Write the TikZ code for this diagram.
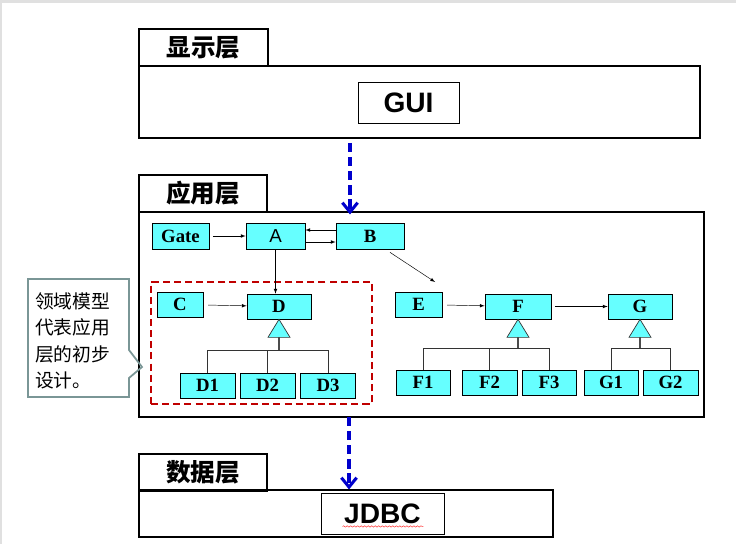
\documentclass[tikz,border=0pt]{standalone}
\usepackage{fontspec}
\setmainfont{Liberation Serif}
\newfontfamily\cjk{Noto Sans CJK SC}
\newfontfamily\arial{Liberation Sans}
\usetikzlibrary{arrows.meta, decorations.pathmorphing}
\definecolor{boxcyan}{RGB}{102,255,255}
\definecolor{depblue}{RGB}{0,0,204}
\definecolor{groupred}{RGB}{192,0,0}
\definecolor{notegray}{RGB}{122,150,150}

\begin{document}
\begin{tikzpicture}[
        x=0.03cm, y=-0.03cm,
        every node/.style={draw, inner sep=0pt, align=center},
        wh/.style 2 args={minimum width=#1*0.03cm, minimum height=#2*0.03cm},
        tab/.style={line width=0.9pt, font=\cjk\bfseries\fontsize{21}{25}\selectfont},
        layer/.style={line width=0.9pt},
        lib/.style={line width=0.8pt, font=\arial\bfseries\fontsize{24}{28}\selectfont},
        cls/.style={fill=boxcyan, line width=0.6pt, font=\bfseries\fontsize{16}{18}\selectfont},
        link/.style={-latex, thin},
        dep/.style={-{Straight Barb[length=8pt,width=13pt]}, depblue, line width=2.6pt, dash pattern=on 8pt off 4pt},
        tree/.style={draw=black!80, line width=0.6pt},
        stem/.style={draw=black!70, line width=2pt},
        tri/.style={fill=boxcyan, draw=black!80, line width=0.6pt},
        group/.style={draw=groupred, line width=1.4pt, dash pattern=on 6pt off 3.5pt},
        note/.style={draw=notegray, line width=1.5pt}
    ]
    \useasboundingbox (0,0) rectangle (736,544);
    \fill[black!12] (0,0) rectangle (736,3);
    \fill[black!12] (0,0) rectangle (2,544);

    % Presentation layer
    \node[layer, wh={561}{72}] (lay1) at (419.5,102) {};
    \node[tab, wh={129}{37}] (tab1) at (203.5,47.5) {显示层};
    \node[lib, wh={101}{41}] (gui) at (408.5,102.5) {GUI};

    % Application layer
    \node[layer, wh={565}{205}] (lay2) at (421.5,314.5) {};
    \node[tab, wh={128}{37}] (tab2) at (203,193.5) {应用层};

    \node[cls, wh={57}{26}] (gate) at (180.5,236) {Gate};
    \node[cls, wh={59}{26}, font=\arial\fontsize{16}{18}\selectfont] (a) at (275.5,236) {A};
    \node[cls, wh={68}{26}] (b) at (370,236) {B};
    \draw[link, shorten <=3pt] (gate) -- (a);
    \draw[link] ([yshift=-0.18cm]a.east) -- ([yshift=-0.18cm]b.west);
    \draw[link] ([yshift=0.18cm]b.west) -- ([yshift=0.18cm]a.east);

    % Domain model group (left)
    \node[group, wh={221}{122}] (grp) at (261.5,343) {};
    \node[cls, wh={46}{25}] (c) at (180,304.5) {C};
    \node[cls, wh={64}{25}] (d) at (279,306.5) {D};
    \node[cls, wh={55}{25}] (d1) at (207.5,385.5) {D1};
    \node[cls, wh={55}{25}] (d2) at (267.5,385.5) {D2};
    \node[cls, wh={55}{25}] (d3) at (328,385.5) {D3};
    \draw[link] (a.south) -- (a.south |- d.north);
    \draw[link, shorten <=4pt] (c) -- (d);
    \draw[tri] (d.south) -- ++(-11,18) coordinate (dl) -- ++(22,0) -- cycle;
    \path (d.south |- dl) ++(0,13) coordinate (dj);
    \draw[tree] (d1.north) |- (dj);
    \draw[tree] (d2.north) |- (dj);
    \draw[tree] (d3.north) |- (dj);
    \draw[stem] (d.south |- dl) -- (dj);

    % Right part
    \coordinate (etip) at (435,282);
    \node[cls, wh={47}{25}] (e) at (418.5,304.5) {E};
    \node[cls, wh={66}{25}] (f) at (518,306.5) {F};
    \node[cls, wh={64}{25}] (g) at (640,306.5) {G};
    \node[cls, wh={54}{25}] (f1) at (423,382.5) {F1};
    \node[cls, wh={55}{25}] (f2) at (489.5,382.5) {F2};
    \node[cls, wh={54}{25}] (f3) at (549,382.5) {F3};
    \node[cls, wh={54}{25}] (g1) at (611,382.5) {G1};
    \node[cls, wh={55}{25}] (g2) at (670.5,382.5) {G2};
    \draw[link] ([shift={(20,3)}]b.south) -- (etip);
    \draw[link, shorten <=4pt] (e) -- (f);
    \draw[link, shorten <=3pt] (f) -- (g);

    \draw[tri] (f.south) -- ++(-11,18) coordinate (fl) -- ++(22,0) -- cycle;
    \path (f.south |- fl) ++(0,11) coordinate (fj);
    \draw[tree] (f1.north) |- (fj);
    \draw[tree] (f2.north) |- (fj);
    \draw[tree] (f3.north) |- (fj);
    \draw[stem] (f.south |- fl) -- (fj);

    \draw[tri] (g.south) -- ++(-11,18) coordinate (gl) -- ++(22,0) -- cycle;
    \path (g.south |- gl) ++(0,11) coordinate (gj);
    \draw[tree] (g1.north) |- (gj);
    \draw[tree] (g2.north) |- (gj);
    \draw[stem] (g.south |- gl) -- (gj);

    % Data layer
    \node[layer, wh={414}{47}] (lay3) at (346,513.5) {};
    \node[tab, wh={128}{37}] (tab3) at (203,472.5) {数据层};
    \node[lib, wh={123}{41}] (jdbc) at (382.5,513.5) {JDBC};
    \draw[red!85, line width=0.4pt, decorate, decoration={snake, amplitude=0.6pt, segment length=3pt}]
        ([shift={(22,-8)}]jdbc.south west) -- ([shift={(-21,-8)}]jdbc.south east);

    % Layer dependencies
    \coordinate (d1top) at (350,143);
    \coordinate (d2top) at (349,417);
    \draw[dep, shorten >=-0.09cm] (d1top) -- (d1top |- lay2.north);
    \draw[dep] (d2top) -- (d2top |- lay3.north);

    % Callout
    \node[draw=none, align=left, anchor=west, font=\cjk\fontsize{16}{22.5}\selectfont] (notetext) at (35,341) {领域模型\\代表应用\\层的初步\\设计。};
    \draw[note] (28,279) -- (129,279) -- (129,350) -- (142,367) -- (129,378) -- (129,397) -- (28,397) -- cycle;

\end{tikzpicture}
\end{document}
